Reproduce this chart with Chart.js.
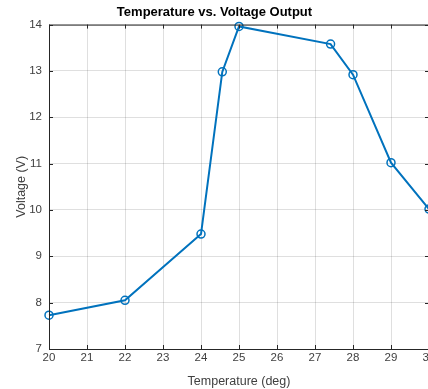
<!DOCTYPE html>
<html>
<head>
<meta charset="utf-8">
<script src="https://cdn.jsdelivr.net/npm/chart.js@4"></script>
<style>
  body { margin: 0; overflow: hidden; background: #fff; }
  #wrap { position: absolute; left: 0; top: 0; width: 440px; height: 389px; }
</style>
</head>
<body>
<div id="wrap"><canvas id="myChart" width="440" height="389"></canvas></div>
<script>
// temperature readings (deg) and measured voltage output (V)
var temps = [20, 22, 24, 24.56, 25, 27.41, 28, 29, 30];
var volts = [7.73, 8.05, 9.48, 12.98, 13.96, 13.58, 12.92, 11.02, 10.02];
var xTicks = [20, 21, 22, 23, 24, 25, 26, 27, 28, 29, 30];
var yTicks = [7, 8, 9, 10, 11, 12, 13, 14];

var points = temps.map(function (t, i) { return { x: t, y: volts[i] }; });

// MATLAB-like box with inward tick marks on all four sides
var boxPlugin = {
    id: 'box',
    afterDraw: function (chart) {
        var ctx = chart.ctx, a = chart.chartArea;
        var sx = chart.scales.x, sy = chart.scales.y;
        ctx.save();
        ctx.strokeStyle = '#262626';
        ctx.lineWidth = 1;
        ctx.strokeRect(a.left + 0.5, a.top + 0.5, a.right - a.left, a.bottom - a.top);
        ctx.beginPath();
        xTicks.forEach(function (v) {
            var px = Math.round(sx.getPixelForValue(v)) + 0.5;
            ctx.moveTo(px, a.bottom); ctx.lineTo(px, a.bottom - 4);
            ctx.moveTo(px, a.top); ctx.lineTo(px, a.top + 4);
        });
        yTicks.forEach(function (v) {
            var py = Math.round(sy.getPixelForValue(v)) + 0.5;
            ctx.moveTo(a.left, py); ctx.lineTo(a.left + 4, py);
            ctx.moveTo(a.right, py); ctx.lineTo(a.right - 4, py);
        });
        ctx.stroke();
        ctx.restore();
    }
};

function createChart() {
    var ctx = document.getElementById('myChart').getContext('2d');
    new Chart(ctx, {
        type: 'scatter',
        data: {
            datasets: [{
                data: points,
                showLine: true,
                borderColor: '#0072BD',
                backgroundColor: 'rgba(0,0,0,0)',
                borderWidth: 2,
                pointRadius: 4,
                pointBorderWidth: 1.5,
                pointBorderColor: '#0072BD',
                pointBackgroundColor: 'rgba(0,0,0,0)',
                clip: false
            }]
        },
        options: {
            responsive: false,
            animation: false,
            layout: { padding: { left: 0, right: 11, top: 0, bottom: 0 } },
            plugins: {
                legend: { display: false },
                tooltip: { enabled: false },
                title: {
                    display: true,
                    text: 'Temperature vs. Voltage Output',
                    color: '#000',
                    font: { family: 'Liberation Sans, Arial, sans-serif', size: 13, weight: 'bold' },
                    padding: { top: 5, bottom: 4 }
                }
            },
            scales: {
                x: {
                    type: 'linear',
                    min: 20,
                    max: 30,
                    afterBuildTicks: function (s) { s.ticks = xTicks.map(function (v) { return { value: v }; }); },
                    grid: { color: 'rgba(38,38,38,0.15)', drawTicks: false },
                    border: { display: false },
                    ticks: {
                        color: '#404040',
                        padding: 2,
                        maxRotation: 0,
                        font: { family: 'Liberation Sans, Arial, sans-serif', size: 11.5 }
                    },
                    title: {
                        display: true,
                        text: 'Temperature (deg)',
                        color: '#404040',
                        padding: { top: 1, bottom: 0 },
                        font: { family: 'Liberation Sans, Arial, sans-serif', size: 12.5 }
                    },
                    afterFit: function (s) { s.height = 40; s.paddingLeft = 0; s.paddingRight = 0; }
                },
                y: {
                    min: 7,
                    max: 14,
                    afterBuildTicks: function (s) { s.ticks = yTicks.map(function (v) { return { value: v }; }); },
                    grid: { color: 'rgba(38,38,38,0.15)', drawTicks: false },
                    border: { display: false },
                    ticks: {
                        color: '#404040',
                        padding: 7,
                        font: { family: 'Liberation Sans, Arial, sans-serif', size: 11.5 }
                    },
                    title: {
                        display: true,
                        text: 'Voltage (V)',
                        color: '#404040',
                        padding: { top: 14, bottom: 0 },
                        font: { family: 'Liberation Sans, Arial, sans-serif', size: 12.5 }
                    },
                    afterFit: function (s) { s.width = 49; s.paddingTop = 0; s.paddingBottom = 0; }
                }
            }
        },
        plugins: [boxPlugin]
    });
}
createChart();
</script>
</body>
</html>
